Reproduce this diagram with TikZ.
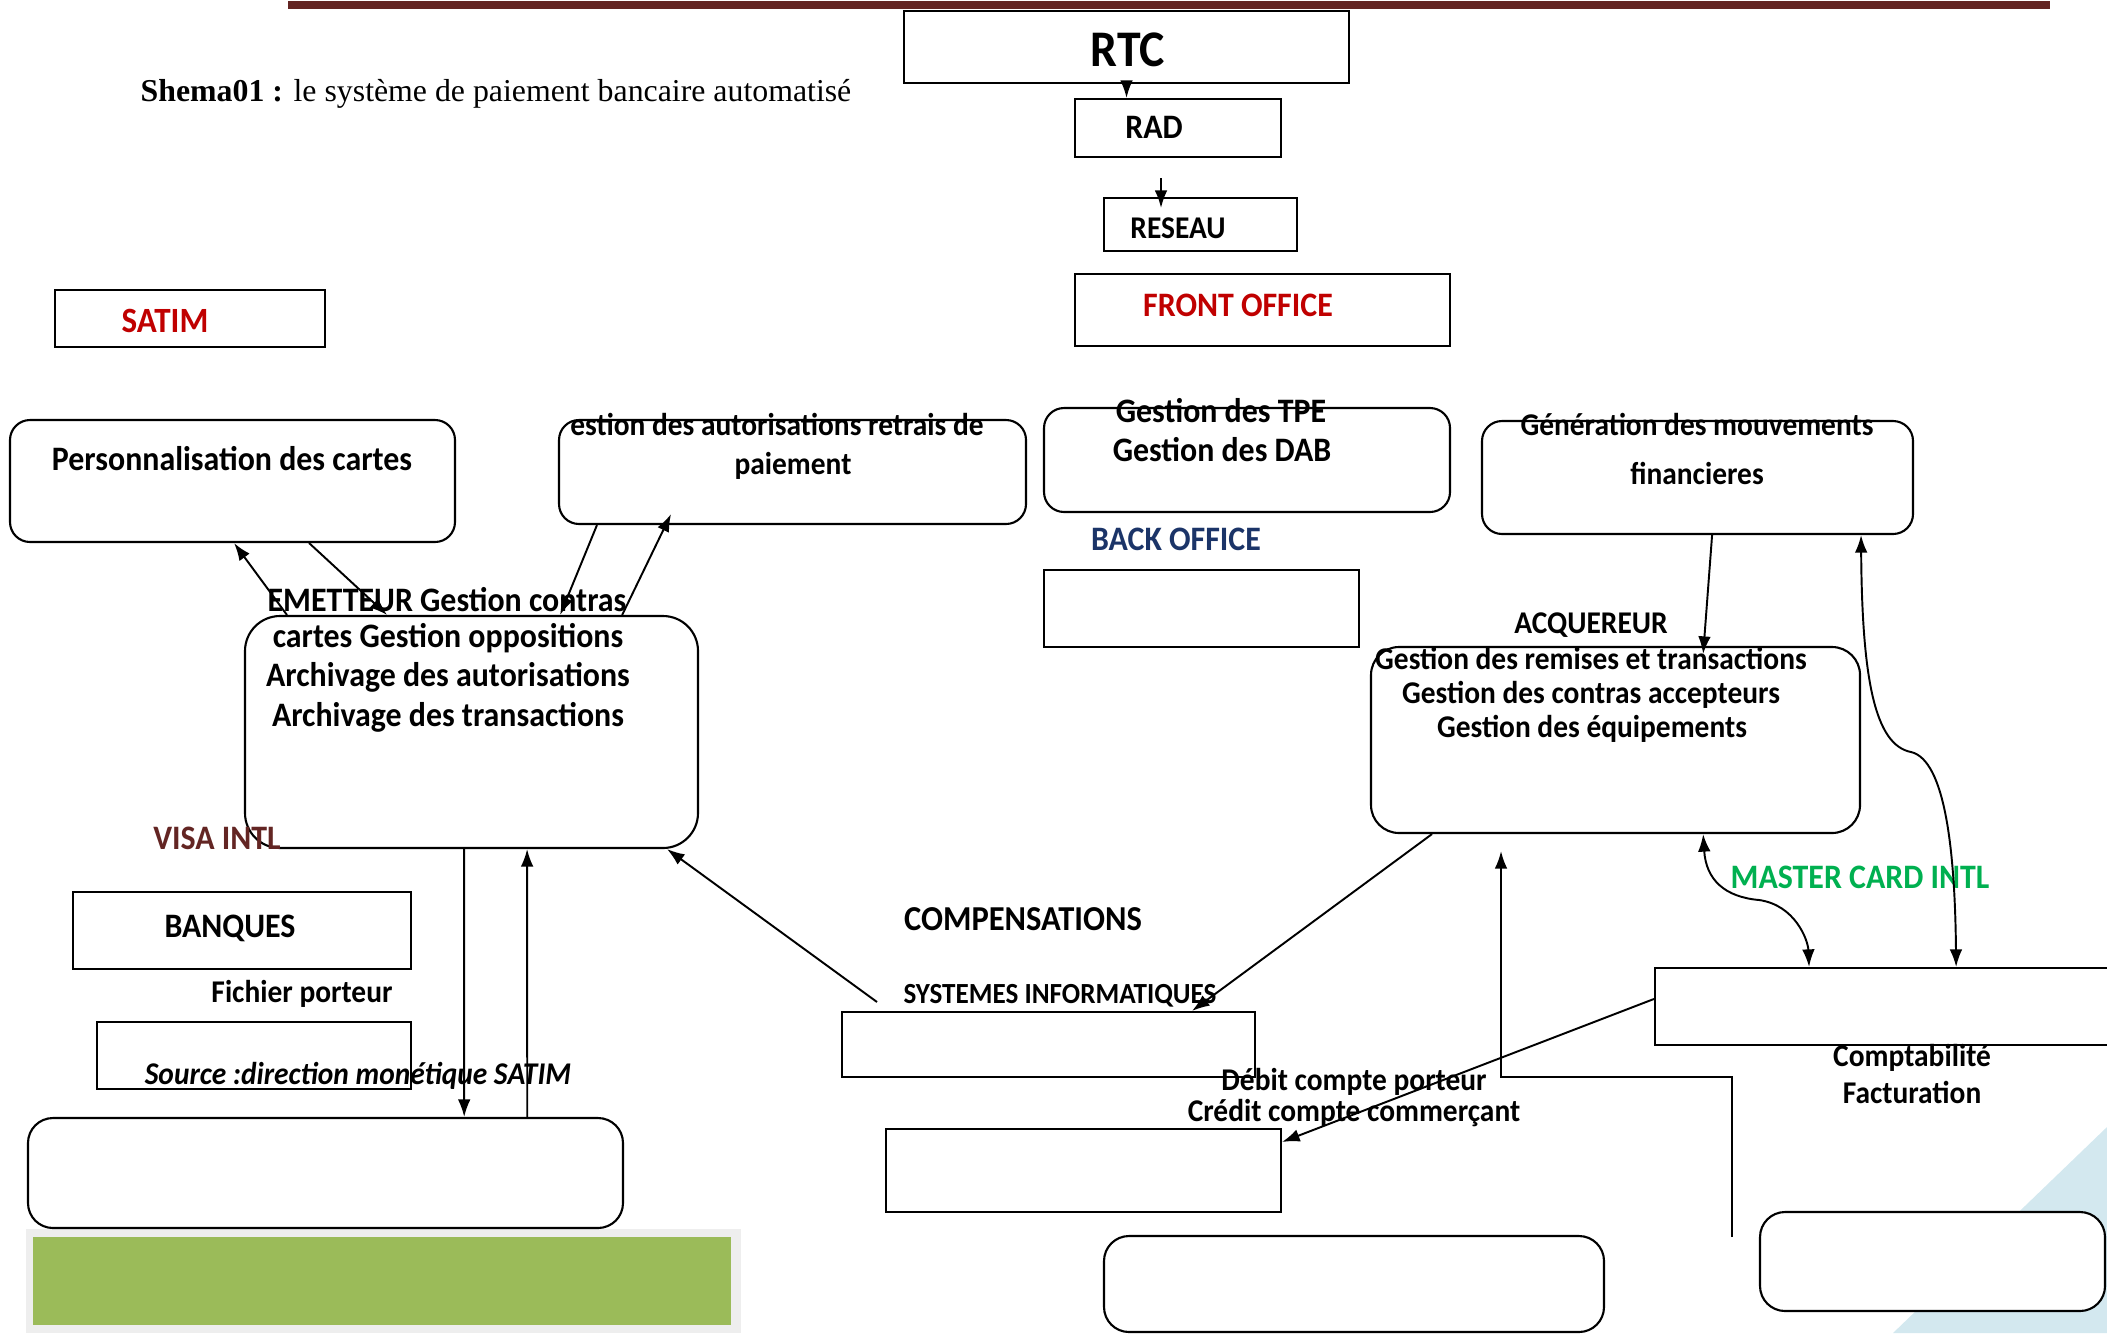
\documentclass[tikz,border=0pt]{standalone}
\usepackage{fontspec}
\setmainfont{Carlito}[FakeStretch=0.93]
\newfontfamily\tnr{Liberation Serif}
\usetikzlibrary{arrows.meta,fit,calc}
\definecolor{barred}{HTML}{632523}
\definecolor{redt}{HTML}{C00000}
\definecolor{bluet}{HTML}{1B3468}
\definecolor{greent}{HTML}{00B050}
\definecolor{greenfill}{HTML}{9BBB59}
\definecolor{grayframe}{HTML}{EEEEEE}
\definecolor{trifill}{HTML}{D3E8EF}
\begin{document}
\begin{tikzpicture}[x=0.01cm,y=-0.01cm,
  box/.style={draw, line width=0.6pt, inner sep=0pt, fill=white},
  rbox/.style={box, rounded corners=0.2cm},
  lbl/.style={font=\bfseries\fontsize{9}{10}\selectfont, inner sep=0pt},
  lblL/.style={font=\bfseries\fontsize{9.75}{11}\selectfont, inner sep=0pt},
  arr/.style={-{Latex[length=5pt,width=3.6pt]}, line width=0.55pt},
  darr/.style={{Latex[length=5pt,width=3.6pt]}-{Latex[length=5pt,width=3.6pt]}, line width=0.55pt}]
\useasboundingbox (0,0) rectangle (2107,1333);

% background decorations
\fill[trifill] (2107,1127) -- (1893,1333) -- (2107,1333) -- cycle;
\node[fill=barred, inner sep=0pt, fit={(288,1) (2050,9)}] (bar) {};
\node[fill=grayframe, inner sep=0pt, fit={(26,1229) (741,1333)}] (gframe) {};
\node[fill=greenfill, inner sep=0pt, fit={(33,1237) (731,1325)}] (gfill) {};

% title
\node[font=\tnr\fontsize{9.05}{11}\selectfont, anchor=west, inner sep=0pt] (title) at (140,94) {\textbf{Shema01 :} le système de paiement bancaire automatisé};

% rectangular boxes
\node[box, fit={(904,11) (1349,83)}] (rtc) {};
\node[box, fit={(1075,99) (1281,157)}] (rad) {};
\node[box, fit={(1104,198) (1297,251)}] (reseau) {};
\node[box, fit={(1075,274) (1450,346)}] (front) {};
\node[box, fit={(55,290) (325,347)}] (satim) {};
\node[box, fit={(1044,570) (1359,647)}] (back) {};
\node[box, fit={(73,892) (411,969)}] (banques) {};
\node[box, fit={(97,1022) (411,1089)}] (fichier) {};
\node[box, fit={(842,1012) (1255,1077)}] (sysinfo) {};
\node[box, fit={(886,1129) (1281,1212)}] (debit) {};
\node[box, fit={(1655,968) (2118,1045)}] (master) {};

% rounded boxes
\node[rbox, fit={(10,420) (455,542)}] (perso) {};
\node[rbox, fit={(559,420) (1026,524)}] (autor) {};
\node[rbox, fit={(1044,408) (1450,512)}] (tpe) {};
\node[rbox, fit={(1482,421) (1913,534)}] (gener) {};
\node[box, rounded corners=0.35cm, fit={(245,616) (698,848)}] (emet) {};
\node[box, rounded corners=0.28cm, fit={(1371,647) (1860,833)}] (acq) {};
\node[box, rounded corners=0.25cm, fit={(28,1118) (623,1228)}] (bigleft) {};
\node[box, rounded corners=0.25cm, fit={(1104,1236) (1604,1332)}] (botmid) {};
\node[box, rounded corners=0.25cm, fit={(1760,1212) (2105,1311)}] (botright) {};

% texts
\node[lbl, font=\bfseries\fontsize{14.6}{16}\selectfont] (tRTC) at (1128,50) {RTC};
\node[lblL] (tRAD) at (1154,127) {RAD};
\node[lbl] (tRES) at (1178,228) {RESEAU};
\node[lblL, text=redt] (tFRONT) at (1238,305) {FRONT OFFICE};
\node[lbl, font=\bfseries\fontsize{10.1}{11}\selectfont, text=redt] (tSATIM) at (165,321) {SATIM};
\node[lblL] (tTPE) at (1221,411) {Gestion des TPE};
\node[lblL] (tDAB) at (1222,450) {Gestion des DAB};
\node[lbl] (tGEN1) at (1697,424) {Génération des mouvements};
\node[lbl] (tGEN2) at (1697,473) {financieres};
\node[lblL] (tPERSO) at (232,459) {Personnalisation des cartes};
\node[lbl] (tAUT1) at (777,424) {estion des autorisations retrais de};
\node[lbl] (tAUT2) at (793,466) {paiement};
\node[lblL, text=bluet] (tBACK) at (1176,539) {BACK OFFICE};
\node[lblL] (tEM1) at (447,600) {EMETTEUR Gestion contras};
\node[lblL] (tEM2) at (448,638) {cartes Gestion oppositions};
\node[lblL] (tEM3) at (448,677) {Archivage des autorisations};
\node[lblL] (tEM4) at (448,717) {Archivage des transactions};
\node[lbl] (tACQ) at (1591,625) {ACQUEREUR};
\node[lbl] (tAC1) at (1591,658) {Gestion des remises et transactions};
\node[lbl] (tAC2) at (1591,695) {Gestion des contras accepteurs};
\node[lbl] (tAC3) at (1592,729) {Gestion des équipements};
\node[lblL, text=barred] (tVISA) at (217,838) {VISA INTL};
\node[lblL, text=greent] (tMC) at (1860,877) {MASTER CARD INTL};
\node[lbl, font=\bfseries\fontsize{9.95}{11}\selectfont] (tCOMP) at (1023,919) {COMPENSATIONS};
\node[lblL] (tBANQ) at (230,928) {BANQUES};
\node[lbl] (tFICH) at (302,994) {Fichier porteur};
\node[lbl, font=\bfseries\fontsize{8.3}{9}\selectfont] (tSYS) at (1060,996) {SYSTEMES INFORMATIQUES};
\node[lbl, font=\bfseries\itshape\fontsize{9}{10}\selectfont] (tSRC) at (358,1076) {Source :direction monétique SATIM};
\node[lbl] (tDEB) at (1354,1082) {Débit compte porteur};
\node[lbl] (tCRE) at (1354,1113) {Crédit compte commerçant};
\node[lbl] (tCPT) at (1912,1058) {Comptabilité};
\node[lbl] (tFAC) at (1912,1092) {Facturation};

% free-end coordinates
\coordinate (radA) at (1161,178);
\coordinate (sysA) at (877,1002);
\coordinate (plA) at (1732,1237);
\coordinate (plB) at (1501,1077);

% connectors
\draw[arr] (rtc.south) -- (rtc.south |- rad.north);
\draw[arr] (radA) -- ([yshift=-0.11cm]reseau.north -| radA);
\draw[arr] ([xshift=0.43cm]emet.north west) -- ([xshift=2.25cm]perso.south west);
\draw[arr] ([xshift=3.0cm]perso.south west) -- ([xshift=1.43cm]emet.north west);
\draw[arr] ([xshift=0.39cm]autor.south west) -- ([xshift=3.16cm]emet.north west);
\draw[arr] ([xshift=3.78cm]emet.north west) -- ([xshift=1.13cm,yshift=0.11cm]autor.south west);
\draw[arr] ([xshift=2.2cm]emet.south west) -- ([xshift=4.37cm]bigleft.north west);
\draw[arr] ([xshift=5.0cm]bigleft.north west) -- ([xshift=2.83cm]emet.south west);
\draw[arr] (sysA) -- ([xshift=-0.32cm]emet.south east);
\draw[arr] ([xshift=0.62cm]acq.south west) -- ([xshift=-0.64cm]sysinfo.north east);
\draw[arr] ([xshift=2.31cm]gener.south west) -- ([xshift=3.33cm,yshift=-0.08cm]acq.north west);
\draw[darr] ([xshift=-0.53cm]gener.south east) .. controls (1862,680) and (1875,745) .. (1911,752)
   .. controls (1945,760) and (1955,850) .. ([xshift=3.02cm]master.north west);
\draw[darr] ([xshift=3.33cm]acq.south west) .. controls (1706,880) and (1725,897) .. (1759,900)
   .. controls (1795,905) and (1808,940) .. ([xshift=1.55cm]master.north west);
\draw[arr] ([yshift=-0.32cm]master.north west) -- ([yshift=-0.14cm]debit.north east);
\draw[arr] (plA) |- (plB) -- ([yshift=-0.17cm]acq.south -| plB);
\end{tikzpicture}
\end{document}
